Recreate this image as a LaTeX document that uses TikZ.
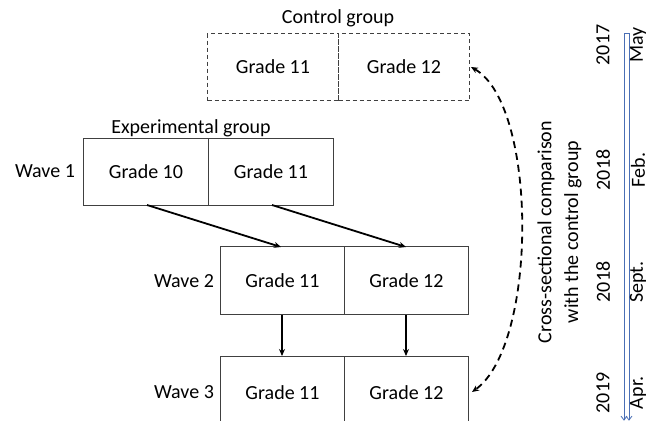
\documentclass[tikz,border=0pt]{standalone}
\usepackage{fontspec}
\setmainfont{Carlito}
\usetikzlibrary{arrows.meta}
\definecolor{tl}{HTML}{4A6FB5}
\begin{document}
\begin{tikzpicture}[x=1pt,y=-1pt,
  every node/.style={font=\fontsize{20}{23}\selectfont, inner sep=0pt},
  cell/.style={draw=black!75, line width=1pt, minimum height=67pt, anchor=north west},
  dcell/.style={cell, dashed, dash pattern=on 4pt off 3pt},
  flow/.style={line width=1.8pt, -{Stealth[length=7pt,width=6pt]}},
  rot/.style={rotate=90}]
\useasboundingbox (0,0) rectangle (649,421);
% control group
\node[dcell, minimum width=131pt] (c11) at (207,33) {Grade 11};
\node[dcell, minimum width=131pt] (c12) at (338,33) {Grade 12};
\node (ctl) at (338,18) {Control group};
% wave 1
\node[cell, minimum width=125pt] (e10) at (83,138) {Grade 10};
\node[cell, minimum width=125pt] (e11) at (208,138) {Grade 11};
\node (exp) at (191,128) {Experimental group};
\node (w1) at (45,171) {Wave 1};
% wave 2
\node[cell, minimum width=124pt, minimum height=68pt] (a11) at (220,246) {Grade 11};
\node[cell, minimum width=124pt, minimum height=68pt] (a12) at (344,246) {Grade 12};
\node (w2) at (184,281) {Wave 2};
% wave 3
\node[cell, minimum width=124pt, minimum height=72pt] (b11) at (220,356) {Grade 11};
\node[cell, minimum width=124pt, minimum height=72pt] (b12) at (344,356) {Grade 12};
\node (w3) at (184,392) {Wave 3};
% arrows
\coordinate (e10s) at (147,205); \coordinate (a11t) at (281,247);
\coordinate (e11s) at (272,205); \coordinate (a12t) at (406,247);
\draw[flow] (e10s) -- (a11t);
\draw[flow] (e11s) -- (a12t);
\draw[flow] (a11.south -| 282,0) -- (b11.north -| 282,0);
\draw[flow] (a12.south -| 406,0) -- (b12.north -| 406,0);
% dashed comparison
\coordinate (ca) at (471,67); \coordinate (cb) at (472,392);
\draw[line width=1.8pt, dash pattern=on 7pt off 5pt, {Stealth[length=7pt,width=6pt]}-{Stealth[length=7pt,width=6pt]}]
  (ca) .. controls (538,105) and (538,345) .. (cb);
\node[rot] (cs1) at (546,232) {Cross-sectional comparison};
\node[rot] (cs2) at (573,232) {with the control group};
% timeline
\coordinate (tA) at (624,33); \coordinate (tB) at (629,33);
\draw[tl, line width=0.8pt] (624,420) -- (tA) -- (tB) -- (629,420);
\draw[tl, line width=0.8pt] (621,416) -- (624,420) -- (627,416);
\draw[tl, line width=0.8pt] (626,416) -- (629,420) -- (632,416);
\node[rot] (y1) at (603,45) {2017};
\node[rot] (y2) at (603,170) {2018};
\node[rot] (y3) at (603,282) {2018};
\node[rot] (y4) at (603,393) {2019};
\node[rot] (m1) at (638,45) {May};
\node[rot] (m2) at (638,170) {Feb.};
\node[rot] (m3) at (638,282) {Sept.};
\node[rot] (m4) at (638,393) {Apr.};
\end{tikzpicture}
\end{document}
